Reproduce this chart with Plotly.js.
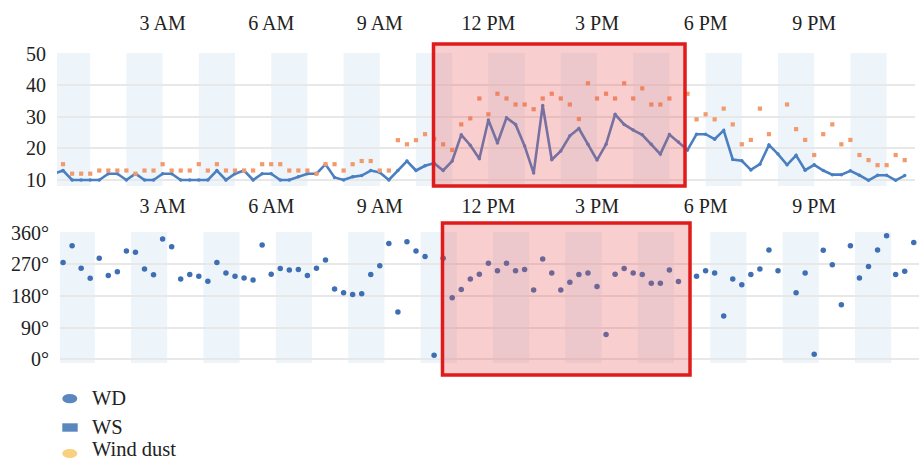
<!DOCTYPE html>
<html><head><meta charset="utf-8">
<script src="https://cdn.plot.ly/plotly-3.0.1.min.js"></script>
<style>html,body{margin:0;padding:0;background:#fff;}#chart{width:919px;height:461px;}</style>
</head><body><div id="chart"></div>
<script>
// ---- data (15-minute samples over one day) ----
const day = '2021-01-01 ';
const times = ('00:00 00:15 00:30 00:45 01:00 01:15 01:30 01:45 02:00 02:15 02:30 02:45 ' +
  '03:00 03:15 03:30 03:45 04:00 04:15 04:30 04:45 05:00 05:15 05:30 05:45 ' +
  '06:00 06:15 06:30 06:45 07:00 07:15 07:30 07:45 08:00 08:15 08:30 08:45 ' +
  '09:00 09:15 09:30 09:45 10:00 10:15 10:30 10:45 11:00 11:15 11:30 11:45 ' +
  '12:00 12:15 12:30 12:45 13:00 13:15 13:30 13:45 14:00 14:15 14:30 14:45 ' +
  '15:00 15:15 15:30 15:45 16:00 16:15 16:30 16:45 17:00 17:15 17:30 17:45 ' +
  '18:00 18:15 18:30 18:45 19:00 19:15 19:30 19:45 20:00 20:15 20:30 20:45 ' +
  '21:00 21:15 21:30 21:45 22:00 22:15 22:30 22:45 23:00 23:15 23:30 23:45').split(' ');

const windSpeed = [
  12,13,10,10,10,10,12,12,10,12,
  10,10,12,12,10,10,10,10,13,10,
  12,13,10,12,12,10,10,11,12,12,
  15,10.8,10,11,11.4,13,12.4,10,13,16,
  13,14.5,15.3,13,16,24.3,21,16.7,29,21.7,
  29.7,27.6,20.8,12.2,33.6,16.4,19.2,24,26.3,21.3,
  16.3,21.3,30.8,27.6,25.8,24.3,21.3,18.2,24.4,22,
  19.5,24.5,24.5,22.9,25.7,16.5,16.1,13.2,15,21.1,
  18.2,14.8,17.8,13.1,14.8,13,11.7,11.7,12.9,11.5,
  9.9,11.5,11.5,9.9,11.4,null];

const windDust = [
  null,15,12,12,12,13,13,13,13,12,
  13,13,15,13,13,13,15,13,15,13,
  13,13,13,15,15,15,13,13,13,12,
  15,15,13,15,16,16,13,13,22.6,21.3,
  22.6,24.5,23,21.3,19.5,27.6,29.5,35.8,30.8,37.3,
  35.8,33.9,33.9,32.4,35.8,37.3,35.8,33.9,29.3,40.6,
  35.8,37.3,35.8,40.6,35.8,39,33.9,33.9,35.8,null,
  37.3,29.2,30.8,29.2,32.6,27.6,21.3,22.7,32.6,24.5,
  null,33.9,26.1,22.7,17.9,24.5,27.6,21.3,22.7,17.9,
  16.3,14.7,14.7,17.9,16.3,null];

const windDir = [
  null,275,323,259,230,287,238,249,308,304,
  257,240,342,320,228,241,236,222,275,245,
  236,231,225,325,242,258,254,255,238,259,
  282,200,189,184,186,241,266,329,134,334,
  308,292,11,287,175,198,228,242,273,252,
  273,252,255,197,285,245,197,219,241,245,
  207,70,242,258,245,241,216,216,254,221,
  null,236,252,245,123,228,212,241,257,311,
  252,null,189,245,14,310,269,155,323,231,
  264,311,351,241,250,332];

const speedTicks = [10, 20, 30, 40, 50];
const dirTicks = [0, 90, 180, 270, 360];
const dirTickText = ['0°', '90°', '180°', '270°', '360°'];
const legendLabels = ['WD', 'WS', 'Wind dust'];

// ---- helpers ----
const W = 919, H = 461;
const px = v => v / W;
const py = v => 1 - v / H;
const X0 = 54, PPH = 36.2;               // pixel of midnight, pixels per hour
const hourOfPx = p => (p - X0) / PPH;
function toDate(h) {
  const d = new Date(Date.UTC(2021, 0, 1) + Math.round(h * 3600000));
  return d.toISOString().replace('T', ' ').replace('Z', '');
}
const xs = times.map(t => day + t);

const serif = 'Liberation Serif, Times New Roman, serif';
const tickFont = {family: serif, size: 20, color: '#222'};

const traces = [
  {x: xs, y: windSpeed, xaxis: 'x', yaxis: 'y', type: 'scatter', mode: 'lines+markers',
   line: {color: '#4a7fc1', width: 2.6}, marker: {size: 3.5, color: '#4a7fc1'},
   connectgaps: false, showlegend: false, name: 'WS'},
  {x: xs, y: windDust, xaxis: 'x', yaxis: 'y', type: 'scatter', mode: 'markers',
   marker: {symbol: 'square', size: 4.2, color: '#f39a6c'}, showlegend: false, name: 'Wind dust'},
  {x: xs, y: windDir, xaxis: 'x2', yaxis: 'y2', type: 'scatter', mode: 'markers',
   marker: {size: 5.5, color: '#3f6fb3'}, showlegend: false, name: 'WD'}
];

const stripe = '#edf5fb';
const shapes = [];
for (let k = 0; k < 12; k++) {
  shapes.push({type: 'rect', xref: 'x', yref: 'y domain', x0: toDate(2 * k), x1: toDate(2 * k + 1),
    y0: 0, y1: 1, fillcolor: stripe, line: {width: 0}, layer: 'below'});
  const off = 0.127;
  shapes.push({type: 'rect', xref: 'x2', yref: 'y2 domain', x0: toDate(2 * k + off), x1: toDate(2 * k + 1 + off),
    y0: 0, y1: 1, fillcolor: stripe, line: {width: 0}, layer: 'below'});
}
// highlight boxes
shapes.push({type: 'rect', xref: 'paper', yref: 'paper', x0: px(433.5), x1: px(685), y0: py(186), y1: py(44),
  fillcolor: 'rgba(232,78,78,0.28)', line: {color: '#e01b1b', width: 3.5}, layer: 'above'});
shapes.push({type: 'rect', xref: 'paper', yref: 'paper', x0: px(442.5), x1: px(690), y0: py(375), y1: py(223),
  fillcolor: 'rgba(232,78,78,0.28)', line: {color: '#e01b1b', width: 3.5}, layer: 'above'});
// legend symbols
shapes.push({type: 'circle', xref: 'paper', yref: 'paper', x0: px(62.3), x1: px(77.3), y0: py(403.3), y1: py(394),
  fillcolor: '#5b87bf', line: {width: 0}});
shapes.push({type: 'rect', xref: 'paper', yref: 'paper', x0: px(62.3), x1: px(77.7), y0: py(431.7), y1: py(423.3),
  fillcolor: '#5b87bf', line: {width: 0}});
shapes.push({type: 'circle', xref: 'paper', yref: 'paper', x0: px(62.3), x1: px(77.3), y0: py(458), y1: py(449),
  fillcolor: '#f8d07e', line: {width: 0}});

const legendY = [398, 427, 448.5];
const annotations = legendLabels.map((t, i) => ({
  text: t, xref: 'paper', yref: 'paper', x: px(91), y: py(legendY[i]), xanchor: 'left', yanchor: 'middle',
  showarrow: false, borderpad: 0, font: {family: serif, size: 20.5, color: '#222'}
}));

const xCommon = {type: 'date', side: 'top', tickformat: '%-I %p', dtick: 3 * 3600000, tick0: day + '00:00',
  showgrid: false, zeroline: false, showline: false, ticks: '', tickfont: tickFont};
const yCommon = {showgrid: true, gridcolor: '#e8e8e8', gridwidth: 2, zeroline: false, showline: false,
  ticks: '', tickfont: tickFont, ticklabelstandoff: 10};

const layout = {
  width: W, height: H, autosize: false,
  margin: {l: 0, r: 0, t: 0, b: 0, pad: 0},
  paper_bgcolor: '#fff', plot_bgcolor: 'rgba(0,0,0,0)',
  showlegend: false,
  xaxis: Object.assign({}, xCommon, {domain: [px(57), px(915)], anchor: 'y',
    range: [toDate(hourOfPx(57)), toDate(hourOfPx(915))], ticklabelstandoff: 18}),
  yaxis: Object.assign({}, yCommon, {domain: [py(186), py(53)], anchor: 'x', range: [8.1, 50.2],
    tickmode: 'array', tickvals: speedTicks}),
  xaxis2: Object.assign({}, xCommon, {domain: [px(60), 1], anchor: 'y2',
    range: [toDate(hourOfPx(60)), toDate(hourOfPx(919))], ticklabelstandoff: 14}),
  yaxis2: Object.assign({}, yCommon, {domain: [py(363), py(232)], anchor: 'x2', range: [-11, 362],
    tickmode: 'array', tickvals: dirTicks, ticktext: dirTickText}),
  shapes: shapes,
  annotations: annotations
};

Plotly.newPlot('chart', traces, layout, {staticPlot: true, displayModeBar: false});
</script>
</body></html>
